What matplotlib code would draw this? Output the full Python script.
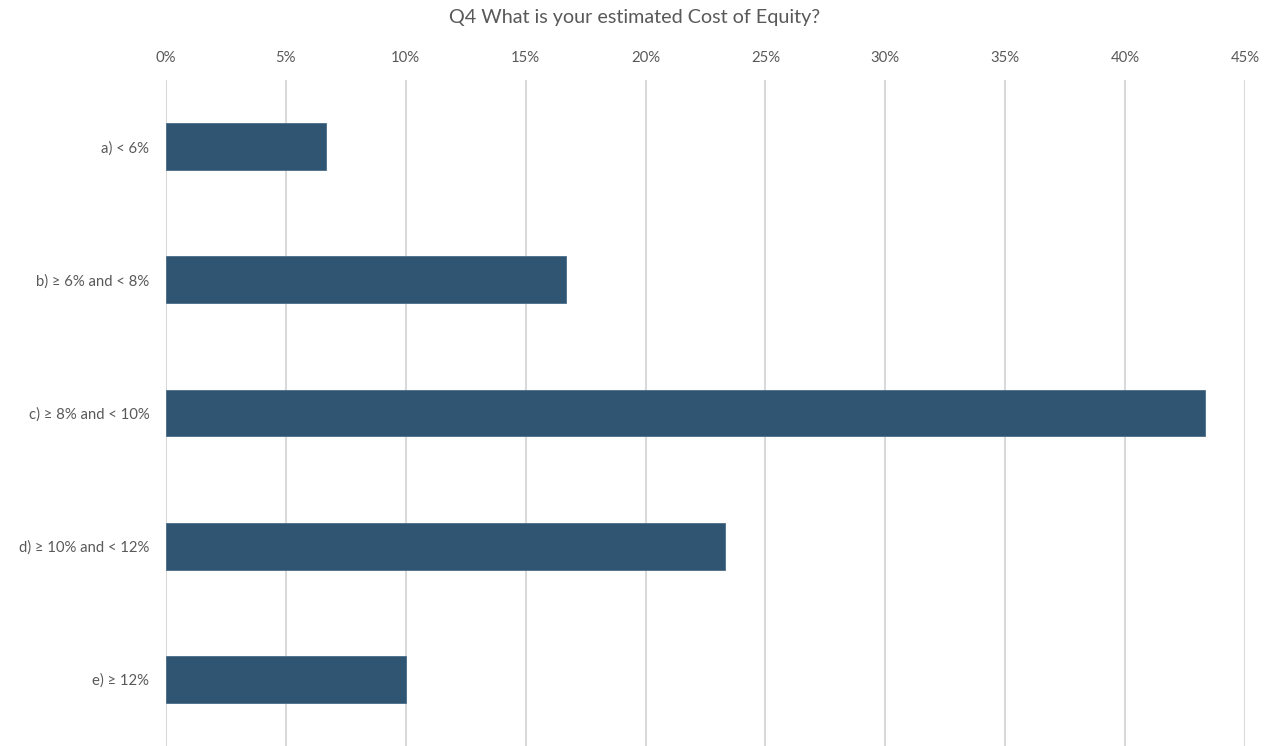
import matplotlib.pyplot as plt
from matplotlib.ticker import FuncFormatter

categories = ["a) < 6%", "b) \u2265 6% and < 8%", "c) \u2265 8% and < 10%",
              "d) \u2265 10% and < 12%", "e) \u2265 12%"]
shares = [6.67, 16.67, 43.33, 23.33, 10.0]
ticks = [0, 5, 10, 15, 20, 25, 30, 35, 40, 45]

plt.rcParams['font.family'] = ['Lato', 'DejaVu Sans']
grey = "#595959"

fig = plt.figure(figsize=(12.7, 7.46), dpi=100)
ax = fig.add_axes([166/1270, 0, (1245-166)/1270, (746-80)/746])

ax.barh(range(len(categories)), shares, height=0.35, color="#2F5572",
        edgecolor="#4A6E88", linewidth=0.6, zorder=3)
ax.set_ylim(4.5, -0.5)
ax.set_xlim(0, 45)
ax.set_yticks(range(len(categories)))
ax.set_yticklabels(categories)
ax.set_xticks(ticks)
ax.xaxis.set_major_formatter(FuncFormatter(lambda v, p: f"{v:.0f}%"))
ax.xaxis.tick_top()
ax.grid(axis="x", color="#D9D9D9", linewidth=1.5, zorder=0)
for s in ax.spines.values():
    s.set_visible(False)
ax.tick_params(axis="both", length=0, labelsize=10.7, labelcolor=grey)
ax.tick_params(axis="x", pad=10.5)
ax.tick_params(axis="y", pad=12)

fig.text(0.5, 1 - 17/746, "Q4 What is your estimated Cost of Equity?",
         ha="center", va="center", fontsize=14.2, color=grey)

plt.savefig("out.png", dpi=100)
